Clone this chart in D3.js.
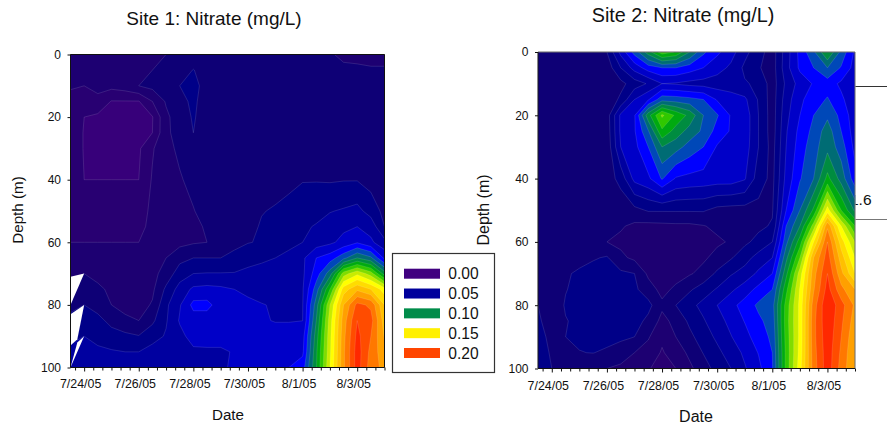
<!DOCTYPE html>
<html>
<head>
<meta charset="utf-8">
<title>Nitrate</title>
<script src="https://d3js.org/d3.v7.min.js"></script>
<style>
  html, body { margin: 0; background: #fff; }
  svg { display: block; }
  text { font-family: "Liberation Sans", Arial, sans-serif; fill: #111; }
  .domain { display: none; }
</style>
</head>
<body>
<svg id="chart" width="887" height="427"></svg>
<script>
/* ==== Data ==== */
// nitrate in hundredths of mg/L, one row per depth, one column every 12 hours from noon 7/23/05
var depths = [0, 5, 10, 15, 20, 25, 30, 40, 50, 55, 60, 65, 70, 75, 80, 85, 90, 95, 100];

var site1Nitrate = [
  [2.3,2.3,2.4,2.4,2.5,2.6,2.8,3.0,3.1,3.2,3.3,3.3,3.3,3.3,3.3,3.3,3.3,3.3,3.2,3.1,2.8,2.7,2.7,2.7],
  [2.3,2.2,2.3,2.3,2.4,2.7,3.0,3.1,3.4,4.05,3.4,3.3,3.3,3.3,3.3,3.3,3.3,3.3,3.2,3.2,3.2,3.2,3.1,3.1],
  [2.1,2.0,2.3,2.3,2.5,3.0,3.3,3.5,4.0,4.4,3.5,3.3,3.3,3.3,3.3,3.3,3.3,3.3,3.3,3.3,3.3,3.3,3.2,3.2],
  [1.7,1.6,1.7,0.95,0.95,0.95,2.0,3.1,3.7,4.2,3.5,3.3,3.3,3.3,3.3,3.3,3.3,3.3,3.3,3.3,3.3,3.3,3.3,3.2],
  [1.5,1.0,0.8,0.7,0.7,0.7,0.95,2.8,3.5,4.1,3.5,3.4,3.4,3.4,3.4,3.4,3.4,3.4,3.4,3.4,3.4,3.4,3.3,3.2],
  [1.5,0.95,0.7,0.7,0.7,0.7,1.0,2.8,3.4,4.0,3.4,3.4,3.4,3.4,3.4,3.4,3.4,3.4,3.4,3.4,3.4,3.4,3.3,3.2],
  [1.5,0.95,0.8,0.7,0.7,0.85,1.9,2.7,3.2,3.4,3.4,3.4,3.4,3.4,3.4,3.4,3.5,3.5,3.5,3.5,3.5,3.5,3.4,3.2],
  [1.6,1.0,1.0,1.0,1.0,1.0,2.1,2.5,2.9,3.3,3.4,3.4,3.4,3.5,3.5,3.6,3.75,3.95,3.95,3.9,3.95,3.95,3.6,3.2],
  [1.7,1.6,1.6,1.6,1.6,1.8,2.1,2.4,2.7,2.95,3.4,3.5,3.6,3.8,3.95,4.1,4.3,4.5,4.6,4.95,5.1,5.3,4.6,3.7],
  [1.8,1.8,1.8,1.8,1.8,1.9,2.1,2.3,2.6,2.8,3.1,3.4,3.6,3.7,4.1,4.3,4.5,4.8,5.1,5.4,5.8,6.0,5.6,4.0],
  [2.0,2.0,2.0,2.0,2.0,2.0,2.3,2.5,2.7,2.9,3.0,3.3,3.6,3.95,4.1,4.5,4.8,5.0,5.5,5.8,6.3,6.9,6.2,5.3],
  [2.3,2.4,2.3,2.3,2.3,2.4,2.6,3.0,3.7,4.0,4.0,4.0,4.4,4.7,4.9,5.0,5.2,5.8,7.0,7.5,8.7,10,9.2,6.8],
  [2.8,3.0,2.7,2.6,2.6,2.6,2.7,3.4,4.5,5.0,5.05,5.05,5.05,5.2,5.2,5.3,5.5,5.8,7.5,9.5,13.5,14.8,13.5,10.5],
  [3.2,3.5,3.2,2.8,2.5,2.5,2.8,4.2,5.4,6.2,6.3,6.2,6.0,5.8,5.6,5.5,5.6,5.9,8.5,12,16.5,17.8,17,15.5],
  [3.7,4.0,3.6,3.0,2.7,2.6,3.1,4.8,5.9,7.3,7.3,6.5,6.4,6.2,6.05,5.9,5.9,5.95,9.5,14,18,20.3,19.8,17],
  [4.3,4.5,4.3,3.7,3.2,3.0,3.8,4.9,6.1,6.5,6.5,6.5,6.4,6.3,6.1,5.95,5.95,5.99,10,14.5,18.5,21,20.4,17.5],
  [4.8,5.0,4.7,4.4,4.25,4.05,4.6,5.1,5.7,6.4,6.5,6.5,6.5,6.5,6.4,6.4,6.4,6.6,10.5,14.7,18.7,21.3,20,17.9],
  [5.2,5.3,5.2,5.1,5.0,5.0,5.4,5.5,5.6,5.8,5.8,5.8,6.1,6.1,6.2,6.2,6.3,6.8,10.8,14.8,18.8,21.5,19.7,18.3],
  [5.5,5.5,5.6,5.6,5.6,5.6,5.6,5.6,5.6,5.7,5.8,5.9,6.1,6.3,6.4,6.6,7.0,7.5,10.9,15,18.8,21.5,19.5,18.7]
];

var site2Nitrate = [
  [3.2,3.3,3.3,3.3,3.3,4.0,6.3,8.4,10.5,12.6,11.9,10,8.2,7.2,6.4,5.3,4.4,3.5,5.5,7.3,8.8,11,8.7,6.8],
  [3.2,3.3,3.3,3.3,3.3,3.4,5.0,6.4,7.5,8.0,8.0,7.5,7,6.4,5.8,4.8,4.1,3.5,5.6,7.2,8.0,9.0,7.9,6.6],
  [3.2,3.3,3.3,3.3,3.3,3.3,3.7,4.5,5.1,6.0,5.9,5.7,5.6,5.5,5.3,5.1,4.8,3.5,5.2,6.4,7.1,7.5,6.8,6.3],
  [3.2,3.3,3.3,3.3,3.3,3.3,4.2,6.0,6.9,8.6,8.5,8.3,8.0,6.9,6.6,6.2,4.9,3.5,5.5,6.8,7.5,8.1,7.2,6.3],
  [3.2,3.3,3.3,3.3,3.3,3.5,6.2,6.9,10.6,13.2,11.8,10.7,9.0,8.1,6.9,6.6,5.0,3.5,5.7,7.0,8.0,8.8,7.7,6.4],
  [3.2,3.3,3.3,3.3,3.3,3.4,6.2,6.9,8.9,11.8,10.6,9.6,8.8,7.6,6.9,6.6,5.0,3.5,5.9,7.3,8.3,9.5,8.0,6.5],
  [3.2,3.3,3.3,3.3,3.3,3.3,6.0,6.7,8.0,10.0,9.4,8.6,8.0,6.9,6.7,6.5,5.0,3.6,6.0,7.5,8.6,9.7,8.5,6.7],
  [3.2,3.3,3.3,3.3,3.3,3.4,4.4,6.3,6.8,8.1,6.9,6.7,6.6,6.5,6.5,6.1,4.5,3.7,6.3,7.9,9.0,11.3,9.6,7.4],
  [3.2,3.3,3.3,3.3,3.3,3.3,3.2,3.7,4.1,4.1,4.1,4.1,4.1,3.7,3.6,3.6,3.7,3.9,7.0,9.0,11.2,15.5,12.0,9.8],
  [3.2,3.3,3.3,3.3,3.3,3.2,3.1,2.8,2.7,2.75,2.8,2.8,2.95,3.2,3.5,3.7,3.8,4.1,8.0,10,13.5,18.8,15,12],
  [3.2,3.2,3.2,3.2,3.2,3.0,2.8,2.5,2.4,2.4,2.4,2.5,2.6,2.85,3.1,3.8,4.3,5.0,8.7,11.5,16,20,16.5,14],
  [3.2,3.3,3.4,3.6,3.9,4.1,3.2,2.8,2.6,2.5,2.5,2.6,2.85,3.3,3.9,4.6,5.4,6.0,9.7,13,18,20.5,17.5,15],
  [3.2,3.3,3.85,4.2,4.4,4.5,4.2,4.0,2.8,2.5,2.6,2.9,3.3,4.2,4.9,5.4,6.2,7.0,10.7,14.5,18.6,21,18.3,16],
  [3.4,3.3,3.95,4.3,4.5,4.5,4.4,4.2,3.45,2.7,3.2,3.85,4.5,5.1,5.8,6.5,7.3,8.0,11.7,15.1,18.9,21.4,19.3,18],
  [4.0,3.3,4.1,4.4,4.6,4.6,4.6,4.5,4.3,3.2,4.0,4.7,5.3,6.0,6.7,7.4,8.2,8.6,12.4,15.3,19.5,21.9,20.4,18.8],
  [4.2,3.4,3.95,4.2,4.4,4.5,4.5,4.4,3.75,2.7,3.3,4.2,4.9,5.6,6.3,7.05,7.8,8.4,12.5,15.3,19.7,21.8,20.2,18.5],
  [4.4,3.7,4.0,4.1,4.3,4.3,4.2,4.0,3.1,2.2,3.0,3.75,4.5,5.2,5.95,6.65,7.5,8.2,12.4,15.3,19.7,21.7,20,18.2],
  [4.6,3.85,3.9,3.98,4.02,3.85,3.5,3.0,2.6,1.9,2.5,3.2,4.05,4.75,5.45,6.2,7.05,8,12.3,15.4,19.6,21.6,19.8,18],
  [4.8,4.0,3.6,3.5,3.3,3.0,2.8,2.4,2.1,1.5,2.0,2.8,3.5,4.4,5.0,5.9,6.75,7.9,12.3,15.6,19.5,21.6,19.6,18]
];

// holes the original contour fill left open: [days after 7/24/05, depth]
var site1Gaps = [
  [[-0.5, 71], [0, 70], [-0.5, 80]],
  [[-0.5, 83], [0, 80], [-0.25, 91], [-0.5, 93]],
  [[-0.25, 92], [0, 90], [-0.5, 100]]
];
var site2Gaps = [
  [[11.5, 5.5], [11.33, 9.5], [11.42, 9.5]],
  [[11.5, 85], [11.42, 88.5], [11.5, 88.5]]
];

var levels = [0, 1, 2, 3, 4, 5, 6, 7, 8, 9, 10, 11, 12, 13, 14, 15, 16, 17, 18, 19, 20, 21];
var levelColors = ["#37007a", "#280072", "#1d0072", "#0e0076", "#000088", "#0000a0", "#0000c8", "#0000ff",
                   "#0048b8", "#006c74", "#008c40", "#00aa10", "#30c800", "#80dc00", "#c8ec00", "#ffff00",
                   "#ffdc00", "#ffc000", "#ffa000", "#ff7800", "#ff4c00", "#ff2800"];

var legendLabels = ["0.00", "0.05", "0.10", "0.15", "0.20"];
var legendColors = ["#400080", "#00009c", "#008c4a", "#fff000", "#ff4500"];

var dateTicks = ["7/24/05", "7/26/05", "7/28/05", "7/30/05", "8/1/05", "8/3/05"];
var depthTicks = [0, 20, 40, 60, 80, 100];

/* ==== Time helpers ==== */
var parseDate = d3.timeParse("%m/%d/%y");
var formatDate = d3.timeFormat("%-m/%-d/%y");
var FIRST_DAY = parseDate("7/24/05");
var START_DATE = d3.timeHour.offset(FIRST_DAY, -12);
var END_DATE = parseDate("8/4/05");
function dayToDate(n) { return d3.timeHour.offset(FIRST_DAY, n * 24) };

var columnDates = d3.timeHour.range(START_DATE, d3.timeHour.offset(END_DATE, 1), 12);
var tickDates = d3.timeHour.range(d3.timeHour.offset(FIRST_DAY, -8), d3.timeHour.offset(END_DATE, 1), 8);
var majorTicks = dateTicks.map(function(d) { return +parseDate(d) });

var svg = d3.select("#chart");

/* ==== Leftover text box behind site 2 ==== */
svg.append("line").attr("x1", 855).attr("x2", 887).attr("y1", 86.5).attr("y2", 86.5).attr("stroke", "#333");
svg.append("line").attr("x1", 855).attr("x2", 887).attr("y1", 219.5).attr("y2", 219.5).attr("stroke", "#777");
svg.append("text").attr("x", 850).attr("y", 205).style("font-size", "15.5px").text("1.6");

/* ==== Panels ==== */
function drawPanel(p) {
  var x = d3.scaleTime().domain([START_DATE, END_DATE]).range([p.left, p.right]);
  var y = d3.scaleLinear().domain([0, 100]).range([p.top, p.bottom]);

  // grid index -> date / depth, d3.contours puts node i at i + 0.5
  var colToX = d3.scaleLinear().domain(d3.range(columnDates.length)).range(columnDates.map(function(d) { return x(d) })).clamp(true);
  var rowToY = d3.scaleLinear().domain(d3.range(depths.length)).range(depths.map(function(d) { return y(d) })).clamp(true);

  var contours = d3.contours()
    .size([columnDates.length, depths.length])
    .thresholds(levels)(p.values.flat());

  var path = d3.line().x(function(c) { return colToX(c[0] - 0.5) }).y(function(c) { return rowToY(c[1] - 0.5) });

  var g = svg.append("g").attr("class", "panel");

  g.selectAll(".band")
    .data(contours)
    .enter()
    .append("path")
    .attr("class", "band")
    .attr("fill", function(d, i) { return levelColors[i] })
    .attr("stroke", function(d, i) { return i == 0 ? "none" : "#fff" })
    .attr("stroke-opacity", 0.2)
    .attr("stroke-width", 0.6)
    .attr("d", function(d) {
      return d.coordinates.map(function(poly) {
        return poly.map(function(ring) { return path(ring) + "Z" }).join("");
      }).join("");
    });

  g.selectAll(".gap")
    .data(p.gaps)
    .enter()
    .append("path")
    .attr("class", "gap")
    .attr("fill", "#fff")
    .attr("d", function(d) {
      return d3.line().x(function(c) { return x(dayToDate(c[0])) }).y(function(c) { return y(c[1]) })(d) + "Z";
    });

  // frame
  g.append("line").attr("x1", p.left).attr("x2", p.right).attr("y1", p.top).attr("y2", p.top).attr("stroke", p.frame);
  g.append("line").attr("x1", p.right).attr("x2", p.right).attr("y1", p.top).attr("y2", p.bottom).attr("stroke", p.frame);
  g.append("line").attr("x1", p.left).attr("x2", p.left).attr("y1", p.top).attr("y2", p.bottom).attr("stroke", "#111");
  g.append("line").attr("x1", p.left).attr("x2", p.right).attr("y1", p.bottom).attr("y2", p.bottom).attr("stroke", "#111");

  /* ---- axes ---- */
  var xAxis = g.append("g")
    .attr("transform", "translate(0," + p.bottom + ")")
    .call(d3.axisBottom(x).tickValues(tickDates).tickSize(3).tickFormat(function(d) {
      return majorTicks.indexOf(+d) >= 0 ? formatDate(d) : "";
    }));
  xAxis.selectAll("line").attr("stroke", "#111").attr("y2", function(d) { return majorTicks.indexOf(+d) >= 0 ? 4 : 3 });
  xAxis.selectAll("text").attr("dx", -4).attr("y", 0).attr("dy", p.tickY).style("font-size", "12.4px");

  var yAxis = g.append("g")
    .attr("transform", "translate(" + p.left + ",0)")
    .call(d3.axisLeft(y).tickValues(depthTicks).tickSize(3));
  yAxis.selectAll("line").attr("stroke", "#111");
  yAxis.selectAll("text").attr("x", -9.5).style("font-size", "12px");

  /* ---- titles ---- */
  g.append("text").attr("x", p.titleX).attr("y", p.titleY).attr("text-anchor", "middle").style("font-size", p.titleSize + "px").text(p.title);
  g.append("text").attr("x", p.dateX).attr("y", p.dateY).attr("text-anchor", "middle").style("font-size", p.labelSize + "px").text("Date");
  g.append("text")
    .attr("transform", "translate(" + p.depthX + ",210) rotate(-90)")
    .attr("text-anchor", "middle")
    .style("font-size", p.labelSize + "px")
    .text("Depth (m)");
}

drawPanel({
  values: site1Nitrate, gaps: site1Gaps, title: "Site 1: Nitrate (mg/L)",
  left: 70.5, right: 384.5, top: 54.5, bottom: 367.5, frame: "#111", tickY: 20.5,
  titleX: 214, titleY: 25, titleSize: 19, dateX: 228, dateY: 420, depthX: 23, labelSize: 15.2
});
drawPanel({
  values: site2Nitrate, gaps: site2Gaps, title: "Site 2: Nitrate (mg/L)",
  left: 538, right: 855, top: 52, bottom: 368.5, frame: "#666", tickY: 21.5,
  titleX: 683, titleY: 22, titleSize: 19.8, dateX: 696, dateY: 422, depthX: 489, labelSize: 16
});

/* ==== Legend ==== */
var legendY = d3.scalePoint().domain(legendLabels).range([273.7, 353]);
var legend = svg.append("g").attr("class", "legend");
legend.append("rect")
  .attr("x", 392.5).attr("y", 253.5).attr("width", 102).attr("height", 119)
  .attr("fill", "#fff").attr("stroke", "#333").attr("stroke-width", 1.2);
legend.selectAll(".swatch")
  .data(legendLabels)
  .enter()
  .append("rect")
  .attr("class", "swatch")
  .attr("x", 404).attr("width", 36).attr("height", 10)
  .attr("y", function(d) { return legendY(d) - 5 })
  .attr("fill", function(d, i) { return legendColors[i] });
legend.selectAll(".legendLabel")
  .data(legendLabels)
  .enter()
  .append("text")
  .attr("class", "legendLabel")
  .attr("x", 448.3)
  .attr("y", function(d) { return legendY(d) + 5.5 })
  .style("font-size", "15.6px")
  .text(function(d) { return d });
</script>
</body>
</html>
